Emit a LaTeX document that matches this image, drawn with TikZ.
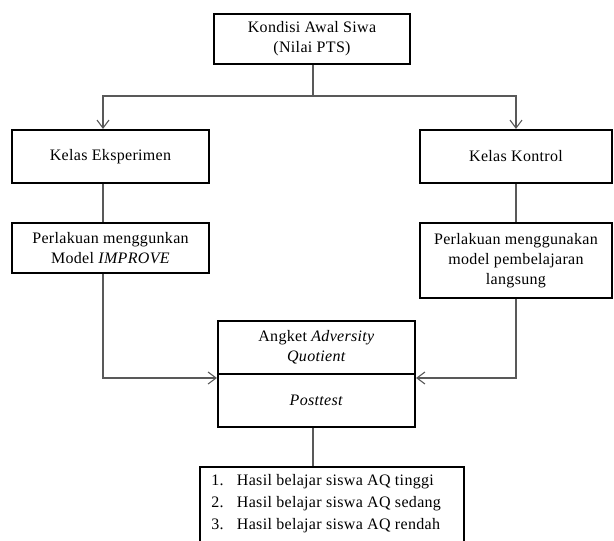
\documentclass[tikz,border=0pt]{standalone}
\usepackage{fontspec}
\setmainfont[LetterSpace=2]{Liberation Serif}
\usetikzlibrary{arrows.meta}
\begin{document}
\begin{tikzpicture}[x=0.75pt,y=-0.75pt,
  box/.style={draw=black,line width=1.6pt,fill=white,inner sep=0pt,align=center,font=\fontsize{12}{15}\selectfont},
  conn/.style={draw=black!65,line width=0.8pt},
  arr/.style={conn,-{Straight Barb[length=6pt,width=9pt,line width=0.8pt]}}]
\useasboundingbox (0,0) rectangle (614,540);
\clip (0,0) rectangle (614,540);
\node[box,minimum width=147pt,minimum height=37.5pt] (top) at (312,39) {Kondisi Awal Siwa\\(Nilai PTS)};
\node[box,minimum width=147.75pt,minimum height=39.75pt] (ke) at (110.5,156.5) {Kelas Eksperimen};
\node[box,minimum width=144pt,minimum height=39.75pt] (kk) at (516,156.5) {Kelas Kontrol};
\node[box,minimum width=147.75pt,minimum height=37.5pt] (pl) at (110.5,248) {Perlakuan menggunkan\\Model \textit{IMPROVE}};
\node[box,minimum width=144pt,minimum height=56.25pt] (pr) at (516,260.5) {Perlakuan menggunakan\\model pembelajaran\\langsung};
\node[box,minimum width=147.75pt,minimum height=39.75pt] (aq) at (316.5,347.5) {Angket \textit{Adversity}\\\textit{Quotient}};
\node[box,minimum width=147.75pt,minimum height=39.75pt] (pt) at (316.5,400.5) {\textit{Posttest}};
\node[box,minimum width=198pt,minimum height=75pt,anchor=north] (hs) at (332,466) {};
\node[font=\fontsize{12}{15}\selectfont,anchor=west,inner sep=0pt] (h1) at (211,482) {1.\hspace{10pt}Hasil belajar siswa AQ tinggi};
\node[font=\fontsize{12}{15}\selectfont,anchor=west,inner sep=0pt] (h2) at (211,504) {2.\hspace{10pt}Hasil belajar siswa AQ sedang};
\node[font=\fontsize{12}{15}\selectfont,anchor=west,inner sep=0pt] (h3) at (211,526) {3.\hspace{10pt}Hasil belajar siswa AQ rendah};
\coordinate (j) at (313,96);
\coordinate (jl) at (103,96);
\coordinate (jr) at (516,96);
\coordinate (xl) at (103,0);
\coordinate (yl) at (0,378);
\draw[conn] (top.south -| j) -- (j);
\draw[arr] (j) -- (jl) -- (xl |- ke.north);
\draw[arr] (j) -- (jr) -- (kk.north);
\draw[conn] (xl |- ke.south) -- (xl |- pl.north);
\draw[conn] (kk.south) -- (pr.north);
\draw[arr] (xl |- pl.south) |- (yl -| pt.west);
\draw[arr] (pr.south) |- (yl -| pt.east);
\draw[conn] (pt.south -| j) -- (hs.north -| j);
\end{tikzpicture}
\end{document}
